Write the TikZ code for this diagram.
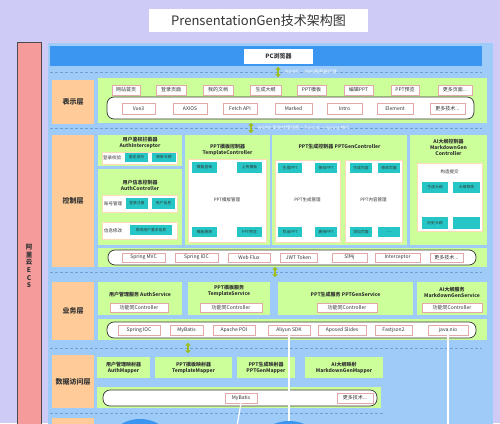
\documentclass[tikz,border=0pt]{standalone}
\usepackage{fontspec}
\setmainfont{Noto Sans CJK SC}
\usetikzlibrary{arrows.meta,shapes.geometric}
\definecolor{bgc}{HTML}{CECCF6}
\definecolor{bluec}{HTML}{9ECBF8}
\definecolor{pcc}{HTML}{3A96F0}
\definecolor{orc}{HTML}{FFCC99}
\definecolor{grc}{HTML}{CCFF99}
\definecolor{tlc}{HTML}{26C6C6}
\definecolor{redc}{HTML}{F59B9B}
\definecolor{chipb}{HTML}{E3A9A9}
\definecolor{txt}{HTML}{333333}
\definecolor{dashc}{HTML}{6F9FD4}
\definecolor{icc}{HTML}{9DBE1E}
\newcommand\bx[7]{\node[#2,minimum width={(#5-#3)*1pt},minimum height={(#6-#4)*1pt}] (#1) at ({(#3+#5)/2},{(#4+#6)/2}) {#7};}
\newcommand\icn[3]{\coordinate (#1) at (#2,#3);
  \draw[line width=2.2pt,draw=icc,{Triangle[length=2.6pt,width=5.5pt]}-{Triangle[length=2.6pt,width=5.5pt]}] ([yshift=-5pt]#1) -- ([yshift=5pt]#1);}
\begin{document}
\begin{tikzpicture}[x=1pt,y=-1pt,
  every node/.style={inner sep=0pt,outer sep=0pt,text=txt},
  layer/.style={fill=orc,font=\bfseries\fontsize{7}{8}\selectfont},
  gbox/.style={fill=grc},
  wbox/.style={fill=white,draw=orc!70,line width=0.4pt},
  teal/.style={fill=tlc,font=\fontsize{3.8}{4.5}\selectfont},
  chip/.style={fill=white,draw=chipb,line width=0.4pt,font=\fontsize{5}{6}\selectfont},
  stad/.style={fill=white,draw=txt,line width=0.7pt,rounded corners=7pt},
  ttl/.style={font=\bfseries\fontsize{5}{6}\selectfont,align=center},
  small/.style={font=\fontsize{4.5}{5.5}\selectfont},
  dline/.style={draw=dashc,line width=0.6pt,dash pattern=on 3pt off 2pt},
  wline/.style={draw=white,line width=1.2pt}]
\useasboundingbox (0,0) rectangle (500,423);
\clip (0,0) rectangle (500,423);
\fill[bgc] (0,0) rectangle (500,423);
% frame
\bx{title}{fill=white}{149}{9}{368}{32}{\fontsize{13}{14}\selectfont PrensentationGen技术架构图}
\bx{ecs}{fill=redc,draw=gray!60!black,line width=0.6pt,font=\bfseries\fontsize{6.5}{7.6}\selectfont,align=center}{17}{42}{41}{490}{阿\\里\\云\\E\\C\\S}
\bx{main}{fill=bluec}{48}{43}{493}{440}{}
\bx{pc}{fill=pcc}{50}{46}{482}{66}{}
\bx{pcl}{fill=white,font=\bfseries\fontsize{6}{7}\selectfont}{244}{49}{313}{64}{PC浏览器}
% dashed separators
\coordinate (d1a) at (50,72); \coordinate (d1b) at (482,72);
\coordinate (d2a) at (50,128); \coordinate (d2b) at (482,128);
\coordinate (d3a) at (50,272); \coordinate (d3b) at (482,272);
\coordinate (d4a) at (50,348); \coordinate (d4b) at (482,348);
\coordinate (d5a) at (50,413); \coordinate (d5b) at (383,413);
\foreach \p in {d1,d2,d3,d4,d5} \draw[dline] (\p a) -- (\p b);
\icn{ic1}{278}{72}
\node[anchor=west,text=white,font=\fontsize{4.5}{5}\selectfont] (lab1) at (285,72) {NGINX · Web服务器代理};
\icn{ic2}{251}{128}
\node[anchor=west,text=white,font=\fontsize{4.5}{5}\selectfont] (lab2) at (258,128) {NGINX 反向代理功能 > Tomcat -> Spring MVC};
\icn{ic3}{275}{272}
\icn{ic4}{188}{348}
% ---------- presentation layer
\bx{L1}{layer}{52}{80}{94}{124}{表示层}
\bx{G1}{gbox}{98}{78}{487}{123}{}
\bx{p1}{chip}{112}{85}{140}{95}{网站首页}
\bx{p2}{chip}{156}{85}{186}{95}{登录页面}
\bx{p3}{chip}{203}{85}{233}{95}{我的文档}
\bx{p4}{chip}{250}{85}{281}{95}{生成大纲}
\bx{p5}{chip}{297}{85}{326}{95}{PPT模板}
\bx{p6}{chip}{344}{85}{373}{95}{编辑PPT}
\bx{p7}{chip}{391}{85}{419}{95}{PPT预览}
\bx{p8}{chip}{438}{85}{472}{95}{更多页面...}
\bx{S1}{stad}{107}{97}{474}{119}{}
\bx{t1}{chip}{122}{103}{155}{114}{Vue3}
\bx{t2}{chip}{173}{103}{207}{114}{AXIOS}
\bx{t3}{chip}{223}{103}{257}{114}{Fetch API}
\bx{t4}{chip}{275}{103}{312}{114}{Marked}
\bx{t5}{chip}{327}{103}{362}{114}{Intro}
\bx{t6}{chip}{377}{103}{413}{114}{Element}
\bx{t7}{chip}{430}{103}{465}{114}{更多技术...}
% ---------- control layer
\bx{L2}{layer}{52}{135}{94}{267}{控制层}
\bx{ai}{gbox}{98}{135}{182}{166}{}
\node[ttl] (aiT) at (140,143) {用户鉴权拦截器\\AuthInterceptor};
\bx{aiw}{wbox}{102}{152}{177}{164}{}
\node[small,anchor=west] (aiX) at (103,158) {登录校验};
\bx{ai1}{teal}{125}{153}{148}{162}{鉴定身份}
\bx{ai2}{teal}{152}{153}{176}{162}{刷新令牌}
\bx{ac}{gbox}{98}{169}{182}{245}{}
\node[ttl] (acT) at (140,185) {用户信息控制器\\AuthController};
\bx{acw1}{wbox}{102}{195}{177}{212}{}
\node[small,anchor=west] (acX1) at (104,203.5) {账号管理};
\bx{ac1}{teal}{126}{198}{148}{209}{登录注册}
\bx{ac2}{teal}{152}{198}{175}{209}{用户信息}
\bx{acw2}{wbox}{102}{222}{177}{239}{}
\node[small,anchor=west] (acX2) at (104,230.5) {信息修改};
\bx{ac3}{teal}{130}{225}{172}{235}{修改用户基本信息}
\bx{tc}{gbox}{185}{135}{270}{245}{}
\node[ttl] (tcT) at (227.5,150) {PPT模板控制器\\TemplateController};
\bx{tcw}{wbox}{188}{159}{266}{242}{}
\node[small] (tcX) at (227,200) {PPT模板管理};
\bx{tc1}{teal}{192}{162}{217}{173}{模板查询}
\bx{tc2}{teal}{237}{162}{262}{173}{上传模板}
\bx{tc3}{teal}{192}{227}{217}{237}{模板删除}
\bx{tc4}{teal}{237}{227}{262}{237}{PPT预览}
\bx{gc}{gbox}{272}{135}{407}{245}{}
\node[ttl] (gcT) at (339.5,147) {PPT生成控制器 PPTGenController};
\bx{gcw1}{wbox}{275}{160}{340}{242}{}
\node[small] (gcX1) at (307.5,200) {PPT生成管理};
\bx{gc1}{teal}{278}{163}{302}{173}{生成PPT}
\bx{gc2}{teal}{315}{163}{337}{173}{保存PPT}
\bx{gc3}{teal}{278}{227}{302}{237}{导出PPT}
\bx{gc4}{teal}{315}{227}{337}{237}{删除PPT}
\bx{gcw2}{wbox}{345}{160}{402}{242}{}
\node[small] (gcX2) at (373.5,200) {PPT内容管理};
\bx{gc5}{teal}{350}{163}{372}{173}{生成内容}
\bx{gc6}{teal}{378}{163}{400}{173}{修改页面}
\bx{gc7}{teal}{350}{227}{372}{237}{添加页面}
\bx{gc8}{teal}{378}{227}{400}{237}{......}
\bx{mc}{gbox}{410}{135}{487}{245}{}
\node[ttl] (mcT) at (448.5,147) {AI大纲控制器\\MarkdownGen\\Controller};
\bx{mcw}{wbox}{417}{163}{482}{231}{}
\node[small] (mcX) at (449.5,172) {构造提交};
\bx{mc1}{teal}{422}{182}{448}{193}{生成大纲}
\bx{mc2}{teal}{453}{182}{480}{193}{大纲修改}
\bx{mc3}{teal}{422}{217}{448}{229}{历史大纲}
\bx{mc4}{teal}{453}{217}{480}{229}{}
\bx{G2}{gbox}{98}{248}{487}{267}{}
\bx{S2}{stad}{108}{250}{476}{265}{}
\bx{s1}{chip}{122}{253}{165}{262}{Spring MVC}
\bx{s2}{chip}{175}{253}{218}{262}{Spring IOC}
\bx{s3}{chip}{228}{253}{270}{262}{Web Flux}
\bx{s4}{chip}{280}{253}{317}{262}{JWT Token}
\bx{s5}{chip}{332}{253}{367}{262}{Slf4j}
\bx{s6}{chip}{375}{253}{420}{262}{Interceptor}
\bx{s7}{chip}{430}{253}{463}{262}{更多技术...}
% ---------- service layer
\bx{L3}{layer}{52}{282}{94}{340}{业务层}
\bx{as}{gbox}{98}{282}{182}{315}{}
\node[ttl] (asT) at (140,295) {用户管理服务 AuthService};
\bx{as1}{chip}{110}{303}{168}{312}{功能同Controller}
\bx{ts}{gbox}{188}{282}{270}{315}{}
\node[ttl] (tsT) at (229,291) {PPT模板服务\\TemplateService};
\bx{ts1}{chip}{200}{303}{262}{312}{功能同Controller}
\bx{ps}{gbox}{278}{282}{413}{315}{}
\node[ttl] (psT) at (345.5,295) {PPT生成服务 PPTGenService};
\bx{ps1}{chip}{317}{303}{377}{312}{功能同Controller}
\bx{ms}{gbox}{417}{282}{487}{315}{}
\node[ttl] (msT) at (452,292) {AI大纲服务\\MarkdownGenService};
\bx{ms1}{chip}{422}{303}{482}{312}{功能同Controller}
\bx{G3}{gbox}{98}{319}{487}{340}{}
\bx{S3}{stad}{107}{322}{476}{338}{}
\bx{b1}{chip}{118}{325}{160}{335}{Spring IOC}
\bx{b2}{chip}{170}{325}{203}{335}{MyBatis}
\bx{b3}{chip}{213}{325}{255}{335}{Apache POI}
\bx{b4}{chip}{268}{325}{310}{335}{Aliyun SDK}
\bx{b5}{chip}{318}{325}{366}{335}{Aposed Slides}
\bx{b6}{chip}{375}{325}{412}{335}{Fastjson2}
\bx{b7}{chip}{428}{325}{468}{335}{java.nio}
% ---------- data access layer
\bx{L4}{layer}{52}{355}{94}{408}{数据访问层}
\bx{am}{gbox}{97}{357}{150}{378}{}
\node[ttl] (amT) at (123.5,367.5) {用户管理映射器\\AuthMapper};
\bx{tm}{gbox}{155}{357}{232}{378}{}
\node[ttl] (tmT) at (193.5,367.5) {PPT模板映射器\\TemplateMapper};
\bx{pm}{gbox}{237}{357}{295}{378}{}
\node[ttl] (pmT) at (266,367.5) {PPT生成映射器\\PPTGenMapper};
\bx{mm}{gbox}{305}{357}{383}{378}{}
\node[ttl] (mmT) at (344,367.5) {AI大纲映射\\MarkdownGenMapper};
\bx{G4}{gbox}{97}{387}{381}{408}{}
\bx{S4}{stad}{103}{390}{377}{406}{}
\bx{m1}{chip}{225}{393}{257}{403}{MyBatis}
\bx{m2}{chip}{337}{393}{373}{403}{更多技术...}
% ---------- storage (cut off)
\bx{L5}{layer}{52}{418}{94}{450}{}
\node[ellipse,fill=pcc,minimum width=56pt,minimum height=40pt] (e1) at (140,439) {};
\node[ellipse,fill=pcc,minimum width=58pt,minimum height=40pt] (e2) at (289,441) {};
\coordinate (e3) at (448,440);
\coordinate (e4) at (236,432);
\draw[wline] (m1.south) -- (e4);
\draw[wline] (b4.south) -- (e2.north);
\draw[wline] (b7.south) -- (e3);
\fill[white] (289,413) circle (1.3pt);
\end{tikzpicture}
\end{document}
